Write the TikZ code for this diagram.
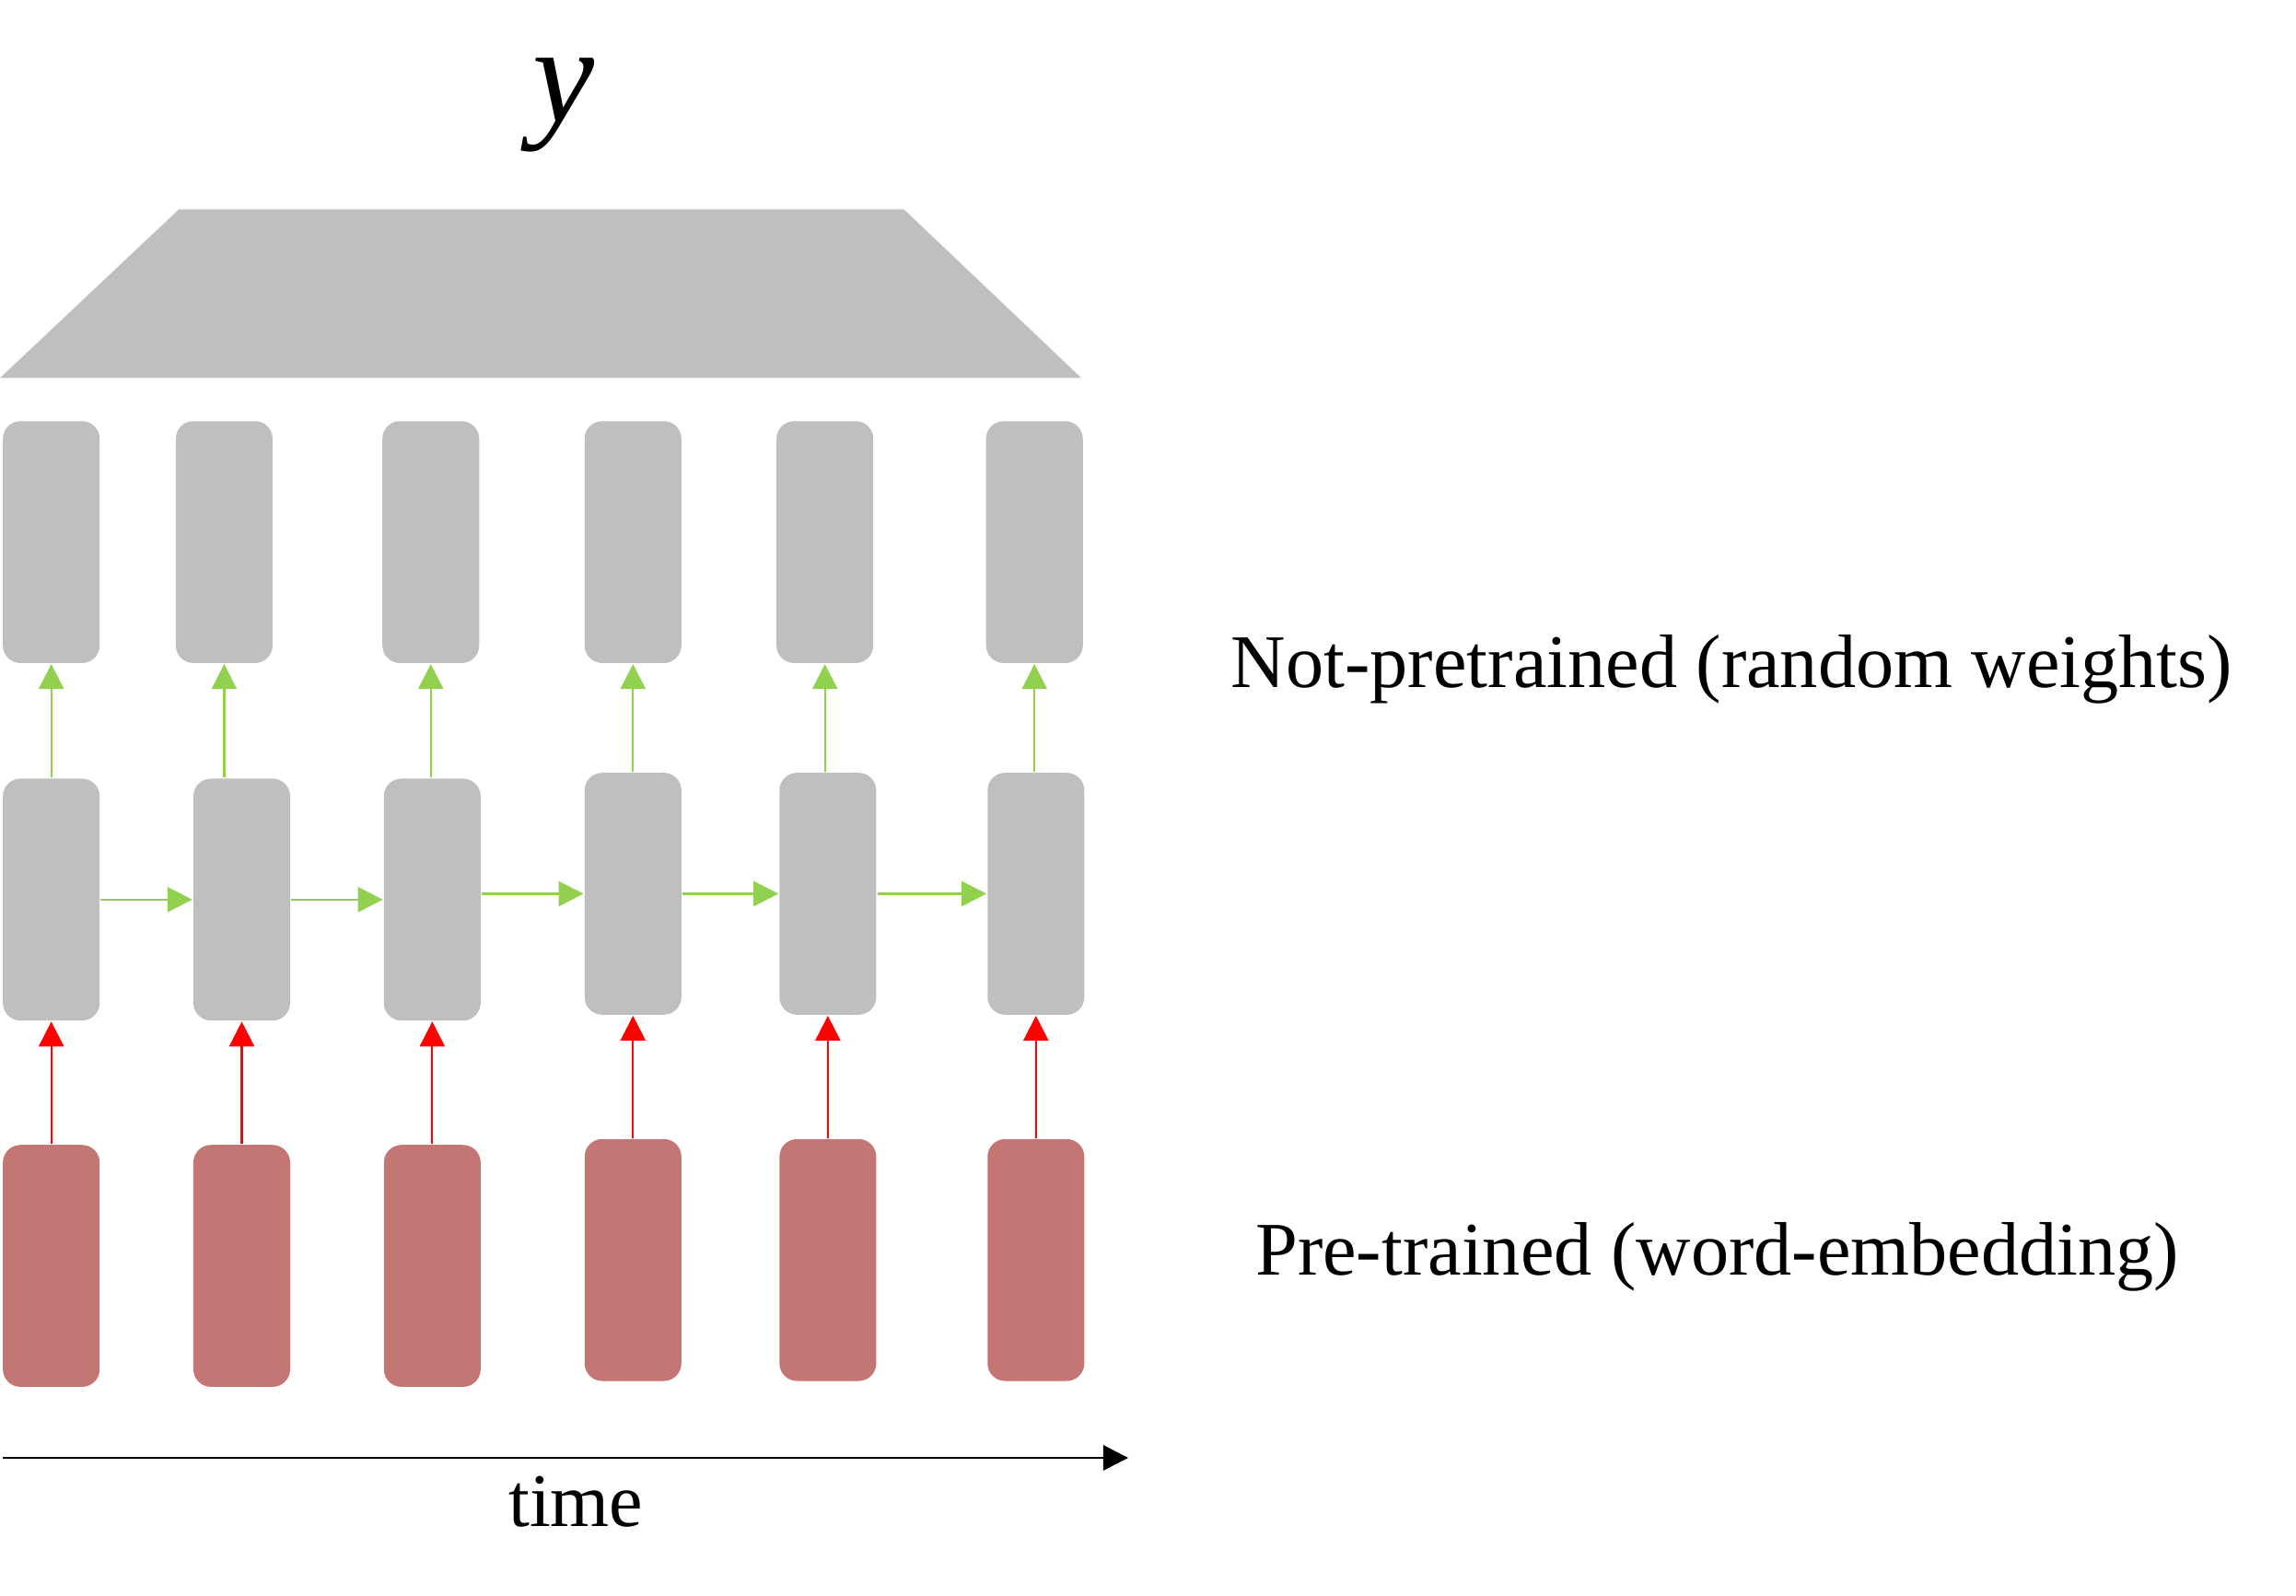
\documentclass[tikz,border=0pt]{standalone}
\usepackage{fontspec}
\setmainfont{Liberation Serif}
\usetikzlibrary{arrows.meta}

\definecolor{cellgray}{RGB}{191,191,191}
\definecolor{embred}{RGB}{196,118,117}
\definecolor{flowgreen}{RGB}{146,208,80}

\tikzset{
  cell/.style={rectangle, rounded corners=1.2mm, fill=cellgray, minimum width=6.6mm, minimum height=16.5mm, inner sep=0pt},
  emb/.style={cell, fill=embred},
  garrow/.style={-{Triangle[length=1.7mm, width=1.7mm]}, flowgreen, line width=0.4pt},
  rarrow/.style={-{Triangle[length=1.7mm, width=1.7mm]}, red, line width=0.4pt},
  bigtext/.style={font=\fontsize{14.7}{17}\selectfont, inner sep=0pt}
}

\begin{document}
\begin{tikzpicture}[x=0.01cm, y=-0.01cm]
\useasboundingbox (0,0) rectangle (1567,1089);
% output layer
\node (y)[font=\fontsize{27}{30}\selectfont\itshape] at (385, 72) {y};
\fill[cellgray] (0,258) -- (122,143) -- (617,143) -- (738,258) -- cycle;
% top cells
\node (t1)[cell] at (35, 370) {};
\node (t2)[cell] at (153, 370) {};
\node (t3)[cell] at (294, 370) {};
\node (t4)[cell] at (432, 370) {};
\node (t5)[cell] at (563, 370) {};
\node (t6)[cell] at (706, 370) {};
% recurrent cells
\node (m1)[cell] at (35, 614) {};
\node (m2)[cell] at (165, 614) {};
\node (m3)[cell] at (295, 614) {};
\node (m4)[cell] at (432, 610) {};
\node (m5)[cell] at (565, 610) {};
\node (m6)[cell] at (707, 610) {};
% embeddings
\node (e1)[emb] at (35, 864) {};
\node (e2)[emb] at (165, 864) {};
\node (e3)[emb] at (295, 864) {};
\node (e4)[emb] at (432, 860) {};
\node (e5)[emb] at (565, 860) {};
\node (e6)[emb] at (707, 860) {};
% labels
\node (np)[bigtext] at (1182, 457) {Not-pretrained (random weights)};
\node (pt)[bigtext] at (1172, 858) {Pre-trained (word-embedding)};
\coordinate (t0) at (2, 995);
\coordinate (tend) at (770, 995);
\node (time)[bigtext] at (393, 1025) {time};
% connections
\draw[garrow] (t1.south |- m1.north) -- (t1.south);
\draw[garrow] (t2.south |- m2.north) -- (t2.south);
\draw[garrow] (t3.south |- m3.north) -- (t3.south);
\draw[garrow] (t4.south |- m4.north) -- (t4.south);
\draw[garrow] (t5.south |- m5.north) -- (t5.south);
\draw[garrow] (t6.south |- m6.north) -- (t6.south);
\draw[garrow] (m1.east) -- (m2.west);
\draw[garrow] (m2.east) -- (m3.west);
\draw[garrow] (m3.east |- m4.west) -- (m4.west);
\draw[garrow] (m4.east) -- (m5.west);
\draw[garrow] (m5.east) -- (m6.west);
\draw[rarrow] (e1.north) -- (m1.south);
\draw[rarrow] (e2.north) -- (m2.south);
\draw[rarrow] (e3.north) -- (m3.south);
\draw[rarrow] (e4.north) -- (m4.south);
\draw[rarrow] (e5.north) -- (m5.south);
\draw[rarrow] (e6.north) -- (m6.south);
\draw[-{Triangle[length=1.7mm, width=1.7mm]}, line width=0.5pt] (t0) -- (tend);
\end{tikzpicture}
\end{document}
